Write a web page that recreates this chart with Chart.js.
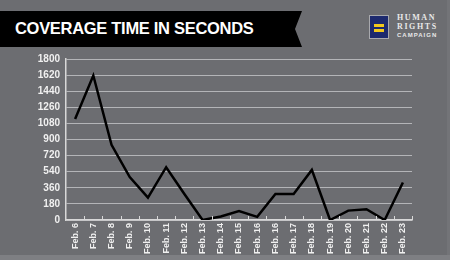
<!DOCTYPE html>
<html>
<head>
<meta charset="utf-8">
<script src="https://cdn.jsdelivr.net/npm/chart.js@4"></script>
<style>
    html, body { margin: 0; padding: 0; }
    body { width: 450px; height: 260px; background: #6c6d71; position: relative; overflow: hidden; font-family: "Liberation Sans", Arial, sans-serif; }
    #banner { position: absolute; left: 0; top: 11px; width: 302px; height: 36px; background: #000;
        clip-path: polygon(0 0, 302px 0, 295px 18px, 302px 36px, 0 36px); }
    #banner span { position: absolute; left: 15px; top: 8px; color: #fff; font-weight: bold; font-size: 16.5px; letter-spacing: -0.3px; white-space: nowrap; }
    #logo { position: absolute; left: 369px; top: 15px; width: 20px; height: 24px; background: #1d2a6e; border: 1px solid #a8a9ad; box-sizing: border-box; }
    #logo i { position: absolute; left: 4px; width: 10px; height: 3px; background: #f2c81c; }
    #hrc { position: absolute; left: 397px; top: 13px; color: #e8e8e8; font-family: "Liberation Serif", serif; font-weight: bold; line-height: 9px; }
    #hrc div { font-size: 8px; letter-spacing: 1.6px; }
    #hrc div.small { font-size: 6px; letter-spacing: 1px; font-family: "Liberation Sans", sans-serif; }
    #strip { position: absolute; left: 0; top: 255px; width: 450px; height: 5px; background: #7e7f83; }
    #edge { position: absolute; left: 447px; top: 0; width: 3px; height: 260px; background: #737478; }
    #wrap { position: absolute; left: 0; top: 0; width: 450px; height: 260px; }
</style>
</head>
<body>
<div id="edge"></div>
<div id="strip"></div>
<div id="banner"><span>COVERAGE TIME IN SECONDS</span></div>
<div id="logo"><i style="top:8px"></i><i style="top:13px"></i></div>
<div id="hrc"><div>HUMAN</div><div>RIGHTS</div><div class="small">CAMPAIGN</div></div>
<div id="wrap"><canvas id="coverageChart" width="450" height="260"></canvas></div>
<script>
const days = ['Feb. 6', 'Feb. 7', 'Feb. 8', 'Feb. 9', 'Feb. 10', 'Feb. 11', 'Feb. 12', 'Feb. 13', 'Feb. 14',
    'Feb. 15', 'Feb. 16', 'Feb. 16', 'Feb. 17', 'Feb. 18', 'Feb. 19', 'Feb. 20', 'Feb. 21', 'Feb. 22', 'Feb. 23'];
const seconds = [1130, 1615, 840, 480, 250, 590, 290, 0, 40, 100, 35, 290, 290, 560, 0, 105, 120, 0, 420];
const yTicks = [0, 180, 360, 540, 720, 900, 1080, 1260, 1440, 1620, 1800];

const ctx = document.getElementById('coverageChart').getContext('2d');

// little tick marks pointing up from the x axis, at category boundaries
const innerTicks = {
    id: 'innerTicks',
    afterDraw(chart) {
        const x = chart.scales.x;
        const c = chart.ctx;
        const n = days.length;
        c.save();
        c.strokeStyle = '#d8d8d8';
        c.lineWidth = 1;
        c.beginPath();
        for (let i = 1; i <= n; i++) {
            const px = Math.round(x.left + i * (x.right - x.left) / n) + 0.5;
            c.moveTo(px, x.top);
            c.lineTo(px, x.top - 4);
        }
        c.stroke();
        c.restore();
    }
};

new Chart(ctx, {
    type: 'line',
    data: {
        labels: days,
        datasets: [{
            data: seconds,
            borderColor: '#000',
            borderWidth: 2.5,
            pointRadius: 0,
            tension: 0,
            fill: false
        }]
    },
    options: {
        responsive: false,
        animation: false,
        events: [],
        layout: { padding: { top: 59, right: 38, left: 0, bottom: 0 } },
        plugins: { legend: { display: false }, tooltip: { enabled: false } },
        scales: {
            x: {
                offset: true,
                afterFit(scale) { scale.height = 40; },
                grid: { display: false, drawTicks: false },
                border: { display: true, color: '#d8d8d8', width: 1.5 },
                ticks: {
                    color: '#f0f0f0',
                    font: { family: 'Liberation Sans', size: 9, weight: 'bold' },
                    minRotation: 90,
                    maxRotation: 90,
                    padding: 3,
                    autoSkip: false
                }
            },
            y: {
                min: 0,
                max: 1800,
                afterFit(scale) { scale.width = 66; },
                afterBuildTicks(scale) { scale.ticks = yTicks.map(v => ({ value: v })); },
                grid: { color: '#b4b5b8', lineWidth: 1, drawTicks: false },
                border: { display: true, color: '#d8d8d8', width: 1.5 },
                ticks: {
                    color: '#f0f0f0',
                    font: { family: 'Liberation Sans', size: 10, weight: 'bold' },
                    padding: 6,
                    callback: v => String(v)
                }
            }
        }
    },
    plugins: [innerTicks]
});
</script>
</body>
</html>
